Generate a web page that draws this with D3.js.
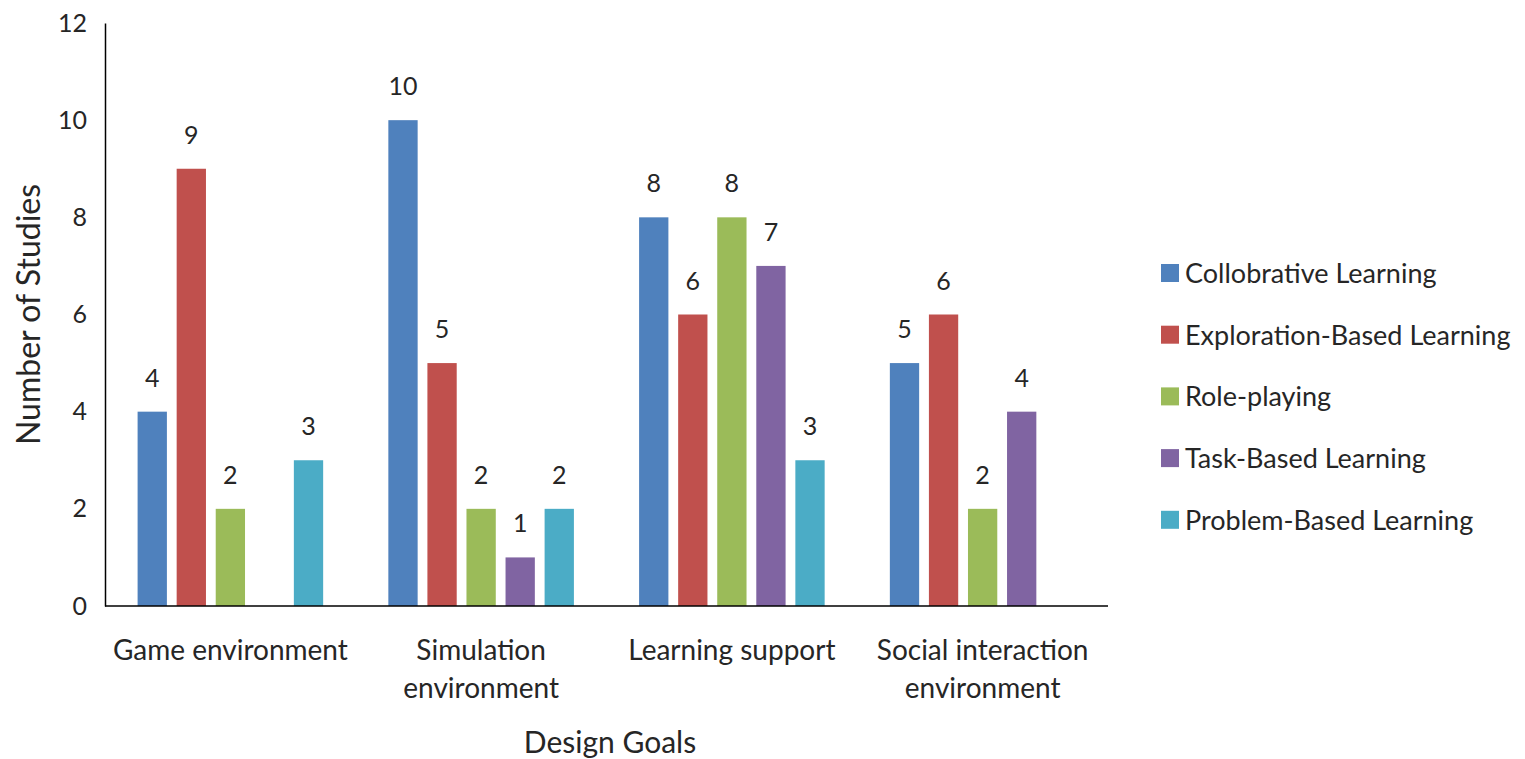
<html>
<head>
<meta charset="UTF-8">
<title>Design Goals</title>
<script src="https://d3js.org/d3.v7.min.js"></script>
<style>html,body{margin:0;padding:0;background:#fff;}</style>
</head>
<body>
<div id="container"></div>
<script>
const categories = [["Game environment"], ["Simulation", "environment"], ["Learning support"], ["Social interaction", "environment"]]
const series = ["Collobrative Learning", "Exploration-Based Learning", "Role-playing", "Task-Based Learning", "Problem-Based Learning"]
const collaborative = [4, 10, 8, 5]
const exploration = [9, 5, 6, 6]
const rolePlaying = [2, 2, 8, 2]
const taskBased = [null, 1, 7, 4]
const problemBased = [3, 2, 3, null]
const yTicks = [0, 2, 4, 6, 8, 10, 12]

const values = [collaborative, exploration, rolePlaying, taskBased, problemBased]
const colors = ['#4f81bd', '#c0504d', '#9bbb59', '#8064a2', '#4bacc6']
const font = 'Lato, "Open Sans", sans-serif'
const textColor = '#262626'

const width = 1525, height = 759
const margin = {top: 23, left: 105, right: 417, bottom: 153}

const svg = d3.select('#container').append('svg')
  .attr('width', width).attr('height', height)
  .style('font-family', font)

const x0 = d3.scaleBand()
  .domain(d3.range(categories.length))
  .range([margin.left, width - margin.right])
  .paddingInner(0.26).paddingOuter(0.13)

const x1 = d3.scaleBand()
  .domain(d3.range(series.length))
  .range([0, x0.bandwidth()])
  .paddingInner(0.25)

const y = d3.scaleLinear().domain([0, 12]).range([height - margin.bottom, margin.top])

// bars + value labels
series.forEach((s, si) => {
  const g = svg.append('g')
  const pts = values[si].map((v, ci) => ({v, ci})).filter(d => d.v != null)
  g.selectAll('rect').data(pts).enter().append('rect')
    .attr('x', d => x0(d.ci) + x1(si))
    .attr('y', d => y(d.v))
    .attr('width', x1.bandwidth())
    .attr('height', d => y(0) - y(d.v))
    .attr('fill', colors[si])
  g.selectAll('text').data(pts).enter().append('text')
    .attr('x', d => x0(d.ci) + x1(si) + x1.bandwidth() / 2)
    .attr('y', d => y(d.v) - 25)
    .attr('text-anchor', 'middle')
    .attr('font-size', 25)
    .attr('fill', textColor)
    .text(d => d.v)
})

// y axis
const yAxis = svg.append('g')
  .attr('transform', 'translate(' + margin.left + ',0)')
  .call(d3.axisLeft(y).tickValues(yTicks).tickSize(0).tickPadding(18))
yAxis.select('.domain').attr('stroke', '#000').attr('stroke-width', 1.5)
yAxis.selectAll('text').attr('font-size', 25).attr('fill', textColor).attr('font-family', font)

// x axis
const xAxis = svg.append('g')
  .attr('transform', 'translate(0,' + y(0) + ')')
  .call(d3.axisBottom(x0).tickSize(0).tickFormat(''))
xAxis.select('.domain').attr('d', 'M' + margin.left + ',0H' + (width - margin.right))
  .attr('stroke', '#000').attr('stroke-width', 1.5)

categories.forEach((lines, ci) => {
  const cx = x0(ci) + x0.bandwidth() / 2
  const t = svg.append('text')
    .attr('x', cx)
    .attr('y', y(0) + 54)
    .attr('text-anchor', 'middle')
    .attr('font-size', 28)
    .attr('fill', textColor)
  lines.forEach((l, li) => {
    t.append('tspan').attr('x', cx).attr('dy', li ? 38 : 0).text(l)
  })
})

// axis titles
svg.append('text')
  .attr('x', 610)
  .attr('y', 753)
  .attr('text-anchor', 'middle')
  .attr('font-size', 30)
  .attr('fill', textColor)
  .text('Design Goals')

svg.append('text')
  .attr('transform', 'translate(40,' + y(6) + ') rotate(-90)')
  .attr('text-anchor', 'middle')
  .attr('font-size', 32)
  .attr('fill', textColor)
  .text('Number of Studies')

// legend
const legend = svg.append('g').attr('transform', 'translate(1161,273)')
series.forEach((s, i) => {
  const row = legend.append('g').attr('transform', 'translate(0,' + i * 61.7 + ')')
  row.append('rect').attr('x', 0).attr('y', -9).attr('width', 18).attr('height', 18).attr('fill', colors[i])
  row.append('text').attr('x', 24).attr('y', 10).attr('font-size', 27).attr('fill', textColor).text(s)
})
</script>
</body>
</html>
